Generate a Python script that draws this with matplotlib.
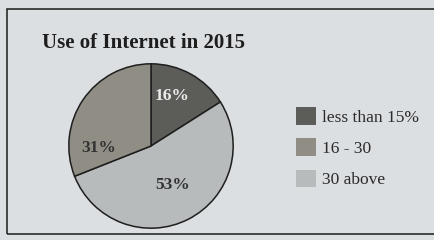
import matplotlib.pyplot as plt
from matplotlib.patches import Rectangle, Patch

# data
categories = ["less than 15%", "16 - 30", "30 above"]
shares = [16, 31, 53]
pie_order = [0, 2, 1]  # clockwise from 12 o'clock: 16%, 53%, 31%
colors = ["#5c5d59", "#8f8d84", "#b7bbbb"]
label_colors = ["#ececec", "#333333", "#333333"]
label_xy = [(0.26, 0.61), (-0.64, -0.02), (0.26, -0.47)]

plt.rcParams['font.family'] = ['Liberation Serif', 'DejaVu Serif']

fig = plt.figure(figsize=(4.35, 2.40), dpi=100)
fig.patch.set_facecolor("#dcdfe1")

# frame round the chart
fig.patches.append(Rectangle((7 / 435, 6 / 240), 1.0, 225 / 240, transform=fig.transFigure,
                             fill=False, edgecolor="#2a2a2a", linewidth=1.2))

fig.text(42 / 435, 1 - 48 / 240, "Use of Internet in 2015", fontsize=15,
         fontweight="bold", color="#1e1e1e", va="baseline")

ax = fig.add_axes([68 / 435, 11 / 240, 166 / 435, 166 / 240])
vals = [shares[i] for i in pie_order]
cols = [colors[i] for i in pie_order]
ax.pie(vals, colors=cols, startangle=90, counterclock=False, radius=1,
       wedgeprops=dict(edgecolor="#1e1e1e", linewidth=1.1))
ax.set_xlim(-1.01, 1.01)
ax.set_ylim(-1.01, 1.01)
ax.set_aspect("equal")
ax.axis("off")

for i, s in enumerate(shares):
    ax.text(label_xy[i][0], label_xy[i][1], f"{s}%", ha="center", va="center",
            fontsize=12.5, fontweight="bold", color=label_colors[i])

handles = [Patch(facecolor=c, edgecolor="none") for c in colors]
fig.legend(handles, categories, loc="upper left", bbox_to_anchor=(296 / 435, 1 - 107 / 240),
           frameon=False, fontsize=12.5, handlelength=1.15, handleheight=1.2,
           handletextpad=0.35, labelspacing=0.72, borderpad=0, borderaxespad=0,
           labelcolor="#2a2a2a")

plt.savefig("out.png", dpi=100, facecolor=fig.get_facecolor())
